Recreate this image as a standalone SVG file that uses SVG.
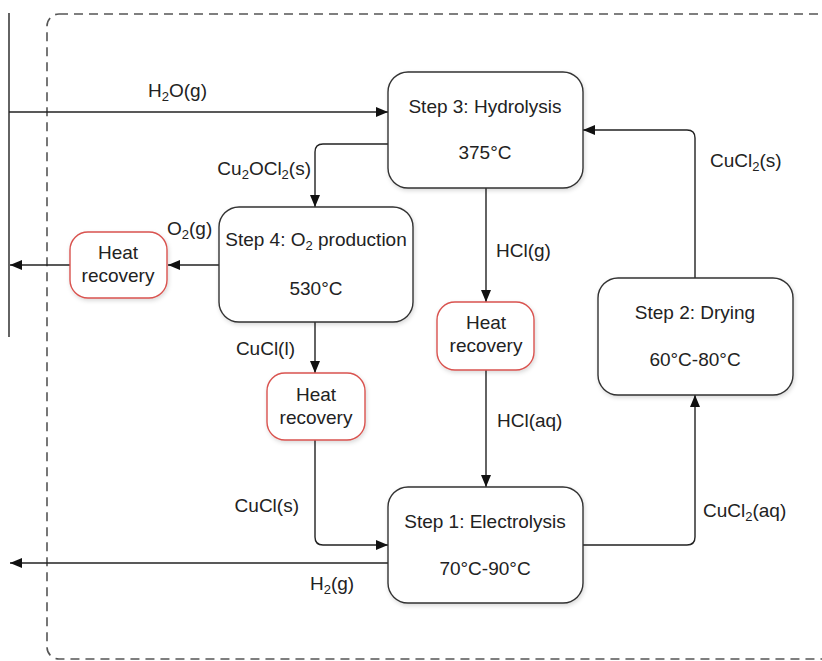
<svg xmlns="http://www.w3.org/2000/svg" width="822" height="661" viewBox="0 0 822 661">
<style>
text{font-family:"Liberation Sans",Arial,sans-serif;font-size:19px;fill:#222}
.c{text-anchor:middle}
.e{text-anchor:end}
.step{fill:#fff;stroke:#333;stroke-width:1.4}
.hr{fill:#fff;stroke:#d9534f;stroke-width:1.4}
.ln{fill:none;stroke:#222;stroke-width:1.4}
.ar{marker-end:url(#arr)}
.sub{font-size:13px}
</style>
<defs>
<marker id="arr" viewBox="0 0 12 10" refX="12" refY="5" markerWidth="12" markerHeight="10" markerUnits="userSpaceOnUse" orient="auto">
<path d="M0,0 L12,5 L0,10 z" fill="#111"/>
</marker>
<filter id="sh" x="-10%" y="-10%" width="130%" height="130%">
<feDropShadow dx="1" dy="2" stdDeviation="2" flood-color="#000" flood-opacity="0.15"/>
</filter>
</defs>
<rect width="822" height="661" fill="#fff"/>
<rect id="boundary" x="47" y="14" width="800" height="645" rx="12" fill="none" stroke="#555" stroke-width="1.6" stroke-dasharray="9 6"/>
<g id="connectors">
<path class="ln" d="M9,13 V337"/>
<path class="ln ar" d="M9,112 H388"/>
<path class="ln ar" d="M388,144 H323 Q315,144 315,152 V207"/>
<path class="ln ar" d="M219,265 H168"/>
<path class="ln ar" d="M70,265 H10"/>
<path class="ln ar" d="M315,322 V373"/>
<path class="ln ar" d="M315,440 V537 Q315,545 323,545 H388"/>
<path class="ln ar" d="M388,563 H10"/>
<path class="ln ar" d="M486,188 V302"/>
<path class="ln ar" d="M486,370 V487"/>
<path class="ln ar" d="M583,545 H687 Q695,545 695,537 V395"/>
<path class="ln ar" d="M695,278 V138 Q695,130 687,130 H583"/>
<text x="148" y="97">H<tspan class="sub" dy="4">2</tspan><tspan dy="-4">O(g)</tspan></text>
<text class="e" x="311" y="175">Cu<tspan class="sub" dy="4">2</tspan><tspan dy="-4">OCl</tspan><tspan class="sub" dy="4">2</tspan><tspan dy="-4">(s)</tspan></text>
<text x="167" y="235">O<tspan class="sub" dy="4">2</tspan><tspan dy="-4">(g)</tspan></text>
<text class="e" x="295" y="355">CuCl(l)</text>
<text class="e" x="299" y="512">CuCl(s)</text>
<text x="310" y="590">H<tspan class="sub" dy="4">2</tspan><tspan dy="-4">(g)</tspan></text>
<text x="496" y="257">HCl(g)</text>
<text x="497" y="427">HCl(aq)</text>
<text x="703" y="517">CuCl<tspan class="sub" dy="4">2</tspan><tspan dy="-4">(aq)</tspan></text>
<text x="710" y="167">CuCl<tspan class="sub" dy="4">2</tspan><tspan dy="-4">(s)</tspan></text>
</g>
<g id="step3">
<rect class="step" filter="url(#sh)" x="388" y="72" width="195" height="116" rx="20"/>
<text class="c" x="485" y="113">Step 3: Hydrolysis</text>
<text class="c" x="485" y="159">375°C</text>
</g>
<g id="step4">
<rect class="step" filter="url(#sh)" x="219" y="207" width="194" height="115" rx="20"/>
<text class="c" x="316" y="246">Step 4: O<tspan class="sub" dy="4">2</tspan><tspan dy="-4"> production</tspan></text>
<text class="c" x="316" y="295">530°C</text>
</g>
<g id="step2">
<rect class="step" filter="url(#sh)" x="598" y="278" width="195" height="117" rx="20"/>
<text class="c" x="695" y="319">Step 2: Drying</text>
<text class="c" x="695" y="366">60°C-80°C</text>
</g>
<g id="step1">
<rect class="step" filter="url(#sh)" x="388" y="487" width="195" height="116" rx="20"/>
<text class="c" x="485" y="528">Step 1: Electrolysis</text>
<text class="c" x="485" y="575">70°C-90°C</text>
</g>
<g id="heat1">
<rect class="hr" filter="url(#sh)" x="70" y="232" width="97" height="66" rx="18"/>
<text class="c" x="118" y="259">Heat</text>
<text class="c" x="118" y="282">recovery</text>
</g>
<g id="heat2">
<rect class="hr" filter="url(#sh)" x="267" y="373" width="98" height="67" rx="18"/>
<text class="c" x="316" y="401">Heat</text>
<text class="c" x="316" y="424">recovery</text>
</g>
<g id="heat3">
<rect class="hr" filter="url(#sh)" x="437" y="302" width="97" height="68" rx="18"/>
<text class="c" x="486" y="329">Heat</text>
<text class="c" x="486" y="352">recovery</text>
</g>
</svg>
